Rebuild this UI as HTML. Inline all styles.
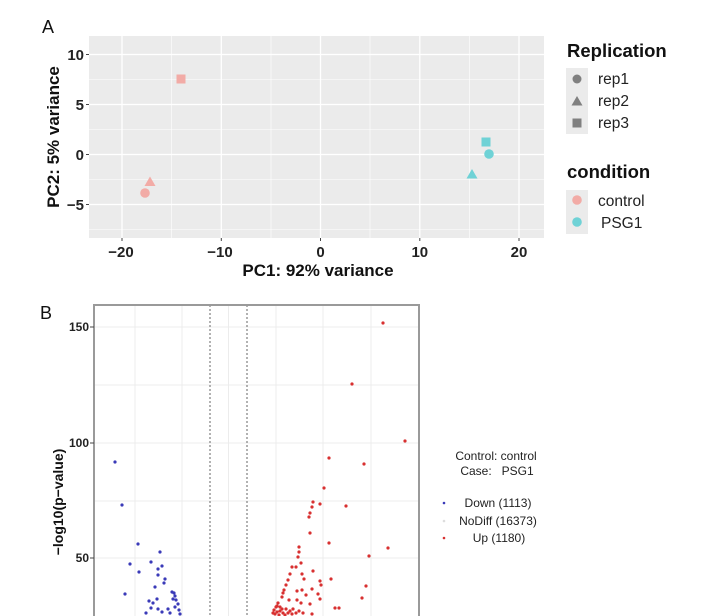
<!DOCTYPE html>
<html><head><meta charset="utf-8"><style>
html,body{margin:0;padding:0;background:#fff;}
svg{display:block;font-family:"Liberation Sans",Arial,sans-serif;}
</style></head><body>
<svg width="714" height="616" viewBox="0 0 714 616" xmlns="http://www.w3.org/2000/svg">
<rect width="714" height="616" fill="#fff"/>
<!-- Panel A -->
<text x="42" y="33" font-size="18" fill="#111">A</text>
<rect x="89" y="36" width="455" height="202" fill="#ebebeb"/>
<g stroke="#fff" stroke-width="0.6">
<line x1="171.7" y1="36" x2="171.7" y2="238"/><line x1="271" y1="36" x2="271" y2="238"/>
<line x1="370" y1="36" x2="370" y2="238"/><line x1="469.5" y1="36" x2="469.5" y2="238"/>
<line x1="89" y1="79.5" x2="544" y2="79.5"/><line x1="89" y1="129.5" x2="544" y2="129.5"/>
<line x1="89" y1="179.5" x2="544" y2="179.5"/><line x1="89" y1="229.5" x2="544" y2="229.5"/>
</g>
<g stroke="#fff" stroke-width="1.3">
<line x1="122" y1="36" x2="122" y2="238"/><line x1="221.3" y1="36" x2="221.3" y2="238"/>
<line x1="320.5" y1="36" x2="320.5" y2="238"/><line x1="419.8" y1="36" x2="419.8" y2="238"/>
<line x1="519" y1="36" x2="519" y2="238"/>
<line x1="89" y1="54.5" x2="544" y2="54.5"/><line x1="89" y1="104.5" x2="544" y2="104.5"/>
<line x1="89" y1="154.5" x2="544" y2="154.5"/><line x1="89" y1="204.5" x2="544" y2="204.5"/>
</g>
<g stroke="#444" stroke-width="1">
<line x1="86" y1="54.5" x2="89" y2="54.5"/><line x1="86" y1="104.5" x2="89" y2="104.5"/>
<line x1="86" y1="154.5" x2="89" y2="154.5"/><line x1="86" y1="204.5" x2="89" y2="204.5"/>
<line x1="122" y1="238" x2="122" y2="241"/><line x1="221.3" y1="238" x2="221.3" y2="241"/>
<line x1="320.5" y1="238" x2="320.5" y2="241"/><line x1="419.8" y1="238" x2="419.8" y2="241"/>
<line x1="519" y1="238" x2="519" y2="241"/>
</g>
<g font-size="15" font-weight="bold" fill="#222" text-anchor="end">
<text x="84" y="60">10</text><text x="84" y="110">5</text>
<text x="84" y="160">0</text><text x="84" y="210">−5</text>
</g>
<g font-size="15" font-weight="bold" fill="#222" text-anchor="middle">
<text x="121" y="257">−20</text><text x="220" y="257">−10</text>
<text x="320.5" y="257">0</text><text x="419.8" y="257">10</text><text x="519" y="257">20</text>
</g>
<text x="318" y="276" font-size="17" font-weight="bold" fill="#111" text-anchor="middle">PC1: 92% variance</text>
<text transform="translate(59,137) rotate(-90)" font-size="17" font-weight="bold" fill="#111" text-anchor="middle">PC2: 5% variance</text>
<!-- points A -->
<g fill="#f2aba6">
<rect x="176.5" y="74.5" width="9" height="9"/>
<polygon points="150,176.5 155.5,186 144.5,186"/>
<circle cx="145" cy="193" r="4.8"/>
</g>
<g fill="#6fd2d6">
<rect x="481.5" y="137.5" width="9" height="9"/>
<circle cx="489" cy="154" r="4.8"/>
<polygon points="472,169 477.5,178.5 466.5,178.5"/>
</g>
<!-- legend A -->
<text x="567" y="57" font-size="18.5" font-weight="bold" fill="#111">Replication</text>
<rect x="566" y="68" width="22" height="66" fill="#ebebeb"/>
<circle cx="577" cy="79" r="4.5" fill="#808080"/>
<polygon points="577,96 582.5,105.5 571.5,105.5" fill="#808080"/>
<rect x="572.5" y="118.5" width="9" height="9" fill="#808080"/>
<g font-size="15.5" fill="#222">
<text x="598" y="84">rep1</text><text x="598" y="106">rep2</text><text x="598" y="128">rep3</text>
</g>
<text x="567" y="178" font-size="18.5" font-weight="bold" fill="#111">condition</text>
<rect x="566" y="190" width="22" height="44" fill="#ebebeb"/>
<circle cx="577" cy="200" r="4.8" fill="#f2aba6"/>
<circle cx="577" cy="222" r="4.8" fill="#6fd2d6"/>
<g font-size="15.5" fill="#222">
<text x="598" y="206">control</text><text x="601" y="228">PSG1</text>
</g>
<!-- Panel B -->
<text x="40" y="319" font-size="18" fill="#111">B</text>
<rect x="94" y="305" width="325" height="320" fill="#fff"/>
<g stroke="#ececec" stroke-width="1">
<line x1="135" y1="305" x2="135" y2="616"/><line x1="182" y1="305" x2="182" y2="616"/>
<line x1="228.5" y1="305" x2="228.5" y2="616"/><line x1="276" y1="305" x2="276" y2="616"/>
<line x1="323" y1="305" x2="323" y2="616"/><line x1="371" y1="305" x2="371" y2="616"/>
<line x1="94" y1="327" x2="419" y2="327"/><line x1="94" y1="385" x2="419" y2="385"/>
<line x1="94" y1="443" x2="419" y2="443"/><line x1="94" y1="501" x2="419" y2="501"/>
<line x1="94" y1="558" x2="419" y2="558"/>
</g>
<g stroke="#666" stroke-width="1" stroke-dasharray="2,2">
<line x1="210" y1="305" x2="210" y2="616"/><line x1="247" y1="305" x2="247" y2="616"/>
</g>
<rect x="94" y="305" width="325" height="330" fill="none" stroke="#9a9a9a" stroke-width="2"/>
<g stroke="#444" stroke-width="1">
<line x1="90" y1="327" x2="94" y2="327"/><line x1="90" y1="443" x2="94" y2="443"/><line x1="90" y1="558" x2="94" y2="558"/>
</g>
<g font-size="12" font-weight="bold" fill="#222" text-anchor="end">
<text x="89" y="331">150</text><text x="89" y="447">100</text><text x="89" y="562">50</text>
</g>
<text transform="translate(63,502) rotate(-90)" font-size="14" font-weight="bold" fill="#111" text-anchor="middle">−log10(p−value)</text>
<!-- blue points -->
<g fill="#3a3ab8">
<circle cx="115" cy="462" r="1.6"/><circle cx="122" cy="505" r="1.6"/><circle cx="138" cy="544" r="1.6"/>
<circle cx="160" cy="552" r="1.6"/><circle cx="130" cy="564" r="1.6"/><circle cx="151" cy="562" r="1.6"/>
<circle cx="162" cy="566" r="1.6"/><circle cx="158" cy="569" r="1.6"/><circle cx="139" cy="572" r="1.6"/>
<circle cx="158" cy="575" r="1.6"/><circle cx="165" cy="579" r="1.6"/><circle cx="164" cy="583" r="1.6"/>
<circle cx="155" cy="587" r="1.6"/><circle cx="125" cy="594" r="1.6"/><circle cx="172" cy="592" r="1.6"/>
<circle cx="174" cy="593" r="1.6"/><circle cx="175" cy="596" r="1.6"/><circle cx="173" cy="599" r="1.6"/>
<circle cx="176" cy="600" r="1.6"/><circle cx="178" cy="604" r="1.6"/><circle cx="149" cy="601" r="1.6"/>
<circle cx="153" cy="603" r="1.6"/><circle cx="157" cy="599" r="1.6"/><circle cx="151" cy="608" r="1.6"/>
<circle cx="158" cy="609" r="1.6"/><circle cx="168" cy="609" r="1.6"/><circle cx="179" cy="610" r="1.6"/>
<circle cx="180" cy="614" r="1.6"/><circle cx="170" cy="613" r="1.6"/><circle cx="146" cy="613" r="1.6"/>
<circle cx="162" cy="612" r="1.6"/><circle cx="175" cy="607" r="1.6"/>
</g>
<!-- red points -->
<g fill="#d83030">
<circle cx="383" cy="323" r="1.6"/><circle cx="352" cy="384" r="1.6"/><circle cx="405" cy="441" r="1.6"/>
<circle cx="329" cy="458" r="1.6"/><circle cx="364" cy="464" r="1.6"/><circle cx="324" cy="488" r="1.6"/>
<circle cx="313" cy="502" r="1.6"/><circle cx="320" cy="504" r="1.6"/><circle cx="346" cy="506" r="1.6"/>
<circle cx="312" cy="507" r="1.6"/><circle cx="310" cy="513" r="1.6"/><circle cx="309" cy="517" r="1.6"/>
<circle cx="310" cy="533" r="1.6"/><circle cx="329" cy="543" r="1.6"/><circle cx="388" cy="548" r="1.6"/>
<circle cx="369" cy="556" r="1.6"/><circle cx="299" cy="547" r="1.6"/><circle cx="299" cy="552" r="1.6"/>
<circle cx="298" cy="557" r="1.6"/><circle cx="301" cy="563" r="1.6"/><circle cx="292" cy="567" r="1.6"/>
<circle cx="296" cy="567" r="1.6"/><circle cx="313" cy="571" r="1.6"/><circle cx="290" cy="574" r="1.6"/>
<circle cx="302" cy="574" r="1.6"/><circle cx="331" cy="579" r="1.6"/><circle cx="288" cy="580" r="1.6"/>
<circle cx="304" cy="579" r="1.6"/><circle cx="320" cy="581" r="1.6"/><circle cx="321" cy="585" r="1.6"/>
<circle cx="286" cy="585" r="1.6"/><circle cx="366" cy="586" r="1.6"/><circle cx="312" cy="589" r="1.6"/>
<circle cx="284" cy="590" r="1.6"/><circle cx="297" cy="591" r="1.6"/><circle cx="302" cy="590" r="1.6"/>
<circle cx="318" cy="594" r="1.6"/><circle cx="283" cy="593" r="1.6"/><circle cx="306" cy="595" r="1.6"/>
<circle cx="362" cy="598" r="1.6"/><circle cx="282" cy="597" r="1.6"/><circle cx="289" cy="600" r="1.6"/>
<circle cx="297" cy="600" r="1.6"/><circle cx="320" cy="599" r="1.6"/><circle cx="278" cy="603" r="1.6"/>
<circle cx="301" cy="603" r="1.6"/><circle cx="310" cy="604" r="1.6"/><circle cx="335" cy="608" r="1.6"/>
<circle cx="339" cy="608" r="1.6"/><circle cx="276" cy="607" r="1.6"/><circle cx="280" cy="607" r="1.6"/>
<circle cx="286" cy="609" r="1.6"/><circle cx="290" cy="611" r="1.6"/><circle cx="299" cy="611" r="1.6"/>
<circle cx="312" cy="614" r="1.6"/>
<circle cx="274" cy="610" r="1.6"/><circle cx="277" cy="612" r="1.6"/><circle cx="280" cy="611" r="1.6"/>
<circle cx="283" cy="613" r="1.6"/><circle cx="275" cy="614" r="1.6"/><circle cx="279" cy="615" r="1.6"/>
<circle cx="285" cy="615" r="1.6"/><circle cx="288" cy="613" r="1.6"/><circle cx="292" cy="614" r="1.6"/>
<circle cx="277" cy="606" r="1.6"/><circle cx="282" cy="609" r="1.6"/><circle cx="293" cy="609" r="1.6"/>
<circle cx="296" cy="613" r="1.6"/><circle cx="303" cy="613" r="1.6"/><circle cx="273" cy="613" r="1.6"/>
</g>
<!-- legend B -->
<g font-size="12" fill="#222" text-anchor="middle">
<text x="496" y="460">Control: control</text>
<text x="497" y="475" xml:space="preserve">Case:   PSG1</text>
<text x="498" y="507">Down (1113)</text>
<text x="498" y="525">NoDiff (16373)</text>
<text x="499" y="542">Up (1180)</text>
</g>
<circle cx="444" cy="503" r="1.3" fill="#3a3ab8"/>
<circle cx="444" cy="521" r="1.3" fill="#ddd"/>
<circle cx="444" cy="538" r="1.3" fill="#d83030"/>
</svg>
</body></html>
